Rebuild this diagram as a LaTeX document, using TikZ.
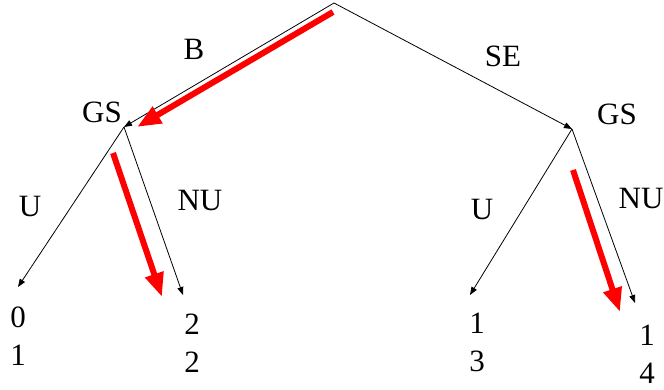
\documentclass[tikz,border=0pt]{standalone}
\usepackage{fontspec}
\setmainfont{Liberation Serif}
\usetikzlibrary{positioning,arrows.meta}
\definecolor{PathRed}{RGB}{255,0,0}

\begin{document}
\begin{tikzpicture}[x=1pt,y=-1pt,
	edge/.style={-{Triangle[length=8pt,width=6pt]}, line width=0.8pt},
	choice/.style={-{Triangle[length=24pt,width=18pt]}, PathRed, line width=6pt},
	lbl/.style={font=\fontsize{31}{38}\selectfont, inner sep=0pt},
	payoff/.style={lbl, align=center, anchor=north}]
	
	\useasboundingbox (0,0) rectangle (664,390);
	
	% decision points
	\coordinate (ROOT) at (334,3);
	\coordinate (GSL) at (124,127);
	\coordinate (GSR) at (572,129);
	
	% end points
	\coordinate (LL) at (18,287);
	\coordinate (LR) at (183,295);
	\coordinate (RL) at (470,295);
	\coordinate (RR) at (635,303);
	
	% branches
	\draw[edge] (ROOT) -- (GSL);
	\draw[edge] (ROOT) -- (GSR);
	\draw[edge] (GSL) -- (LL);
	\draw[edge] (GSL) -- (LR);
	\draw[edge] (GSR) -- (RL);
	\draw[edge] (GSR) -- (RR);
	
	% labels
	\node[lbl] (B) at (194,49) {B};
	\node[lbl] (SE) at (503,56) {SE};
	\node[lbl] (GSLtext) at (102,112) {GS};
	\node[lbl] (GSRtext) at (617,114) {GS};
	\node[lbl] (UL) at (30,207) {U};
	\node[lbl] (NUL) at (200,201) {NU};
	\node[lbl] (UR) at (482,210) {U};
	\node[lbl] (NUR) at (641,199) {NU};
	
	% payoffs
	\node[payoff] (PLL) at (18,307) {0\\1};
	\node[payoff] (PLR) at (192,314) {2\\2};
	\node[payoff] (PRL) at (477,313) {1\\3};
	\node[payoff] (PRR) at (647,325) {1\\4};
	
	% chosen moves
	\coordinate (C1s) at (333,12);
	\coordinate (C1e) at (137,127);
	\coordinate (C2s) at (113,153);
	\coordinate (C2e) at (162,297);
	\coordinate (C3s) at (573,170);
	\coordinate (C3e) at (620,312);
	\draw[choice] (C1s) -- (C1e);
	\draw[choice] (C2s) -- (C2e);
	\draw[choice] (C3s) -- (C3e);
	
\end{tikzpicture}
\end{document}
